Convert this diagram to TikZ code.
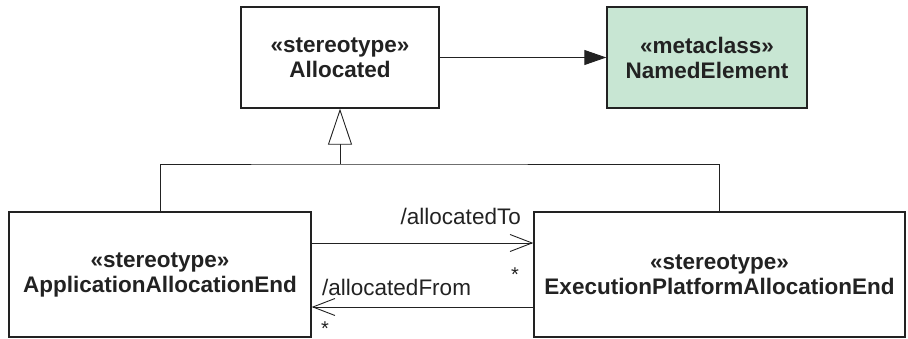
\documentclass[tikz,border=0pt]{standalone}
\usepackage{fontspec}
\setmainfont{Liberation Sans}
\usetikzlibrary{arrows.meta}
\definecolor{metagreen}{HTML}{C8E6D3}
\definecolor{ink}{HTML}{222222}
\begin{document}
\begin{tikzpicture}[x=1pt,y=-1pt,
  classbox/.style={draw=ink, line width=1.4pt, align=center, inner sep=0pt,
    text=ink, font=\bfseries\fontsize{22.5}{25}\selectfont},
  conn/.style={draw=ink, line width=0.9pt},
  lbl/.style={font=\fontsize{22.5}{25}\selectfont, text=ink, inner sep=0pt},
  mult/.style={font=\fontsize{20}{24}\selectfont, text=ink, inner sep=0pt}]
\useasboundingbox (0,0) rectangle (908,339);

% classes
\node[classbox, minimum width=198pt, minimum height=101pt] (alloc) at (340,57.5)
  {«stereotype»\\Allocated};
\node[classbox, fill=metagreen, minimum width=200pt, minimum height=101pt] (named) at (707,57.5)
  {«metaclass»\\NamedElement};
\node[classbox, minimum width=302pt, minimum height=125pt] (app) at (160,274.5)
  {«stereotype»\\ApplicationAllocationEnd};
\node[classbox, minimum width=371pt, minimum height=125pt] (exec) at (719.5,274.5)
  {«stereotype»\\ExecutionPlatformAllocationEnd};

% extension of the metaclass
\draw[conn, -{Triangle[length=22pt,width=15pt]}] (alloc.east) -- (named.west);

% generalization tree
\coordinate (gj) at (340,164);
\draw[conn] (app.north) |- (gj) -| (exec.north);
\draw[conn, -{Triangle[open, length=36pt, width=24pt, fill=white]}] (gj) -- (alloc.south);

% associations between the two ends
\coordinate (toY) at (0,243);
\coordinate (fromY) at (0,307);
\draw[conn, -{Straight Barb[length=22pt,width=17pt]}] (app.east |- toY) -- (exec.west |- toY);
\draw[conn, -{Straight Barb[length=22pt,width=17pt]}] (exec.west |- fromY) -- (app.east |- fromY);

% role names and multiplicities
\node[lbl, anchor=base east] (toLbl) at (521,225) {/allocatedTo};
\node[lbl, anchor=base west] (fromLbl) at (322,295) {/allocatedFrom};
\node[mult, anchor=base] (toMult) at (515,281) {*};
\node[mult, anchor=base] (fromMult) at (325,335) {*};
\end{tikzpicture}
\end{document}
